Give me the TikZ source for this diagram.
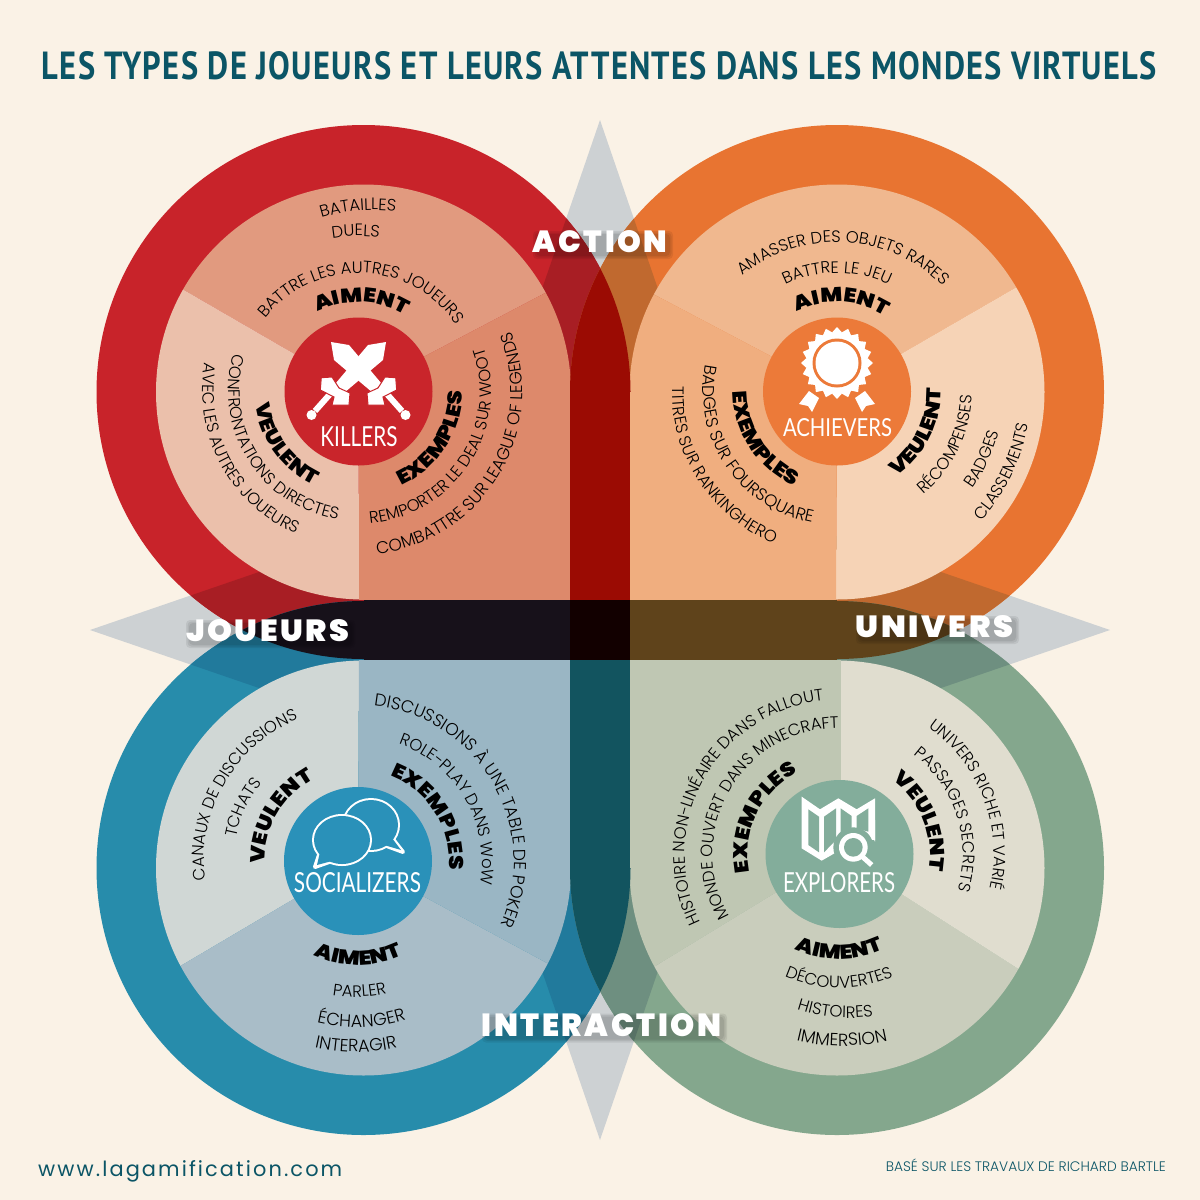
\documentclass[tikz,border=0pt]{standalone}
\usepackage{fontspec}
\usepackage{graphicx}
\usetikzlibrary{calc,decorations.text}
\newfontfamily\bodyfont{Poppins Light}
\newfontfamily\heavyfont[FakeStretch=1.15]{Poppins Black}
\newfontfamily\titlefont[LetterSpace=4]{PT Sans Bold}
\newfontfamily\iconfont{Lato}
\newfontfamily\bandfont[LetterSpace=8]{Poppins Black}
\newfontfamily\urlfont[LetterSpace=10]{Poppins}
\newfontfamily\notefont{Poppins Light}
\definecolor{bg}{HTML}{FAF2E6}
\definecolor{dia}{HTML}{CDD1D3}
\definecolor{tealt}{HTML}{0B5566}
\definecolor{redc}{HTML}{C8232A}
\definecolor{redd}{HTML}{A81E24}
\definecolor{orac}{HTML}{E87431}
\definecolor{orad}{HTML}{C0692F}
\definecolor{bluc}{HTML}{278CAB}
\definecolor{blud}{HTML}{217A9C}
\definecolor{grec}{HTML}{84A78D}
\definecolor{gred}{HTML}{6E8F80}
\definecolor{icr}{HTML}{C9252B}
\definecolor{ico}{HTML}{EC7A39}
\definecolor{icb}{HTML}{2A91B9}
\definecolor{icg}{HTML}{83AD9B}
\definecolor{rA}{HTML}{E19A7F}
\definecolor{rV}{HTML}{EBC0AB}
\definecolor{rX}{HTML}{DD896B}
\definecolor{oA}{HTML}{F0B88F}
\definecolor{oV}{HTML}{F6D3B6}
\definecolor{oX}{HTML}{F0AE7F}
\definecolor{bV}{HTML}{D0D7D5}
\definecolor{bA}{HTML}{A9BDC8}
\definecolor{bX}{HTML}{9AB6C4}
\definecolor{gX}{HTML}{BFC7B3}
\definecolor{gA}{HTML}{C9CDBC}
\definecolor{gV}{HTML}{E0DDCF}
\definecolor{bandT}{HTML}{9B0B03}
\definecolor{bandB}{HTML}{12545F}
\definecolor{bandL}{HTML}{17111A}
\definecolor{bandR}{HTML}{5F431B}
\definecolor{bandC}{HTML}{120000}
\tikzset{
  iconbg/.style={circle,inner sep=0pt,minimum size=148pt},
  iconlab/.style={inner sep=0pt,text=white},
  bandlab/.style={inner sep=0pt,text=white},
  softshade/.style={fill=black,opacity=0.07,rounded corners=4pt},
}
\newcommand\dbody{\fontsize{16.5}{16.5}\selectfont\bodyfont}
\newcommand\dbs[1]{\fontsize{#1}{#1}\selectfont\bodyfont}
\newcommand\dheavy{\fontsize{20}{20}\selectfont\heavyfont}
% cx cy R mid dir(1=clockwise,-1=counterclockwise) format text
\newcommand\ct[7]{%
  \pgfmathsetmacro\sa{#4+#5*85}%
  \pgfmathsetmacro\da{-#5*170}%
  \path[decorate,decoration={text along path,text align=center,text={|#6|#7}}]
    ($(#1,-#2)+(\sa:#3)$) arc[start angle=\sa,delta angle=\da,radius=#3];
}
\newcommand\wed[7]{% color cx cy x1 y1 x2 y2
  \fill[#1] (#2,-#3) -- ($(#2,-#3)!3!(#4,-#5)$) -- ($(#2,-#3)!3!(#6,-#7)$) -- cycle;
}
\newcommand\bandtext[6]{% name x y w h text
  \foreach \g in {0,1.5,3}{
    \fill[softshade] ({#2+3-#4/2-\g},{-#3-3-#5/2-\g}) rectangle ({#2+3+#4/2+\g},{-#3-3+#5/2+\g});
  }
  \node[bandlab] (#1) at (#2,-#3) {\resizebox{#4pt}{#5pt}{\bandfont #6}};
}
\begin{document}
\begin{tikzpicture}[x=1pt,y=1pt]
\useasboundingbox (0,-1200) rectangle (1200,0);
\fill[bg] (0,-1200) rectangle (1200,0);
% title
\node[inner sep=0pt,text=tealt] (title) at (599.5,-65.5) {\resizebox{1115pt}{28pt}{\titlefont LES TYPES DE JOUEURS ET LEURS ATTENTES DANS LES MONDES VIRTUELS}};
% grey diamonds
\fill[dia] (600,-120) -- (775,-630) -- (600,-1140) -- (425,-630) -- cycle;
\fill[dia] (90,-630) -- (600,-455) -- (1110,-630) -- (600,-805) -- cycle;
% outer shapes
\fill[redc] (363.5,-392) circle[radius=267];
\fill[redc] (363.5,-392) rectangle (630,-659);
\fill[orac] (837,-392) circle[radius=267];
\fill[orac] (570,-392) rectangle (837,-659);
\fill[bluc] (363.5,-868) circle[radius=267];
\fill[bluc] (363.5,-601) rectangle (630,-868);
\fill[grec] (837,-868) circle[radius=267];
\fill[grec] (570,-601) rectangle (837,-868);
% diamond seen through the rings
\foreach \cx/\cy/\cc in {363.5/392/redd,837/392/orad,363.5/868/blud,837/868/gred}{
  \begin{scope}
    \clip (\cx,-\cy) circle[radius=267];
    \fill[\cc] (600,-120) -- (775,-630) -- (600,-1140) -- (425,-630) -- cycle;
    \fill[\cc] (90,-630) -- (600,-455) -- (1110,-630) -- (600,-805) -- cycle;
  \end{scope}
}
% sectors red
\begin{scope}
  \clip (363.5,-392) circle[radius=207.5];
  \wed{rA}{358.5}{391}{184}{290}{547}{292}
  \wed{rX}{358.5}{391}{547}{292}{359}{600}
  \wed{rV}{358.5}{391}{359}{600}{184}{290}
\end{scope}
\fill[rX] (359,-392) rectangle (570,-600);
% sectors orange
\begin{scope}
  \clip (837,-392) circle[radius=207.5];
  \wed{oA}{837}{391}{655}{295}{1015}{288}
  \wed{oV}{837}{391}{1015}{288}{836}{600}
  \wed{oX}{837}{391}{836}{600}{655}{295}
\end{scope}
\fill[oX] (630,-392) rectangle (836,-600);
% sectors blue
\begin{scope}
  \clip (363.5,-868) circle[radius=207.5];
  \wed{bV}{358}{861}{359}{660}{182}{965}
  \wed{bA}{358}{861}{182}{965}{545}{962}
  \wed{bX}{358}{861}{545}{962}{359}{660}
\end{scope}
\fill[bX] (359,-660) rectangle (570,-868);
% sectors green
\begin{scope}
  \clip (837,-868) circle[radius=207.5];
  \wed{gX}{839}{854}{841}{660}{657}{965}
  \wed{gA}{839}{854}{657}{965}{1017}{968}
  \wed{gV}{839}{854}{1017}{968}{841}{660}
\end{scope}
\fill[gX] (630,-660) rectangle (841,-868);
% overlap bands
\begin{scope}
  \clip (363.5,-392) circle[radius=267];
  \clip (837,-392) circle[radius=267];
  \fill[bandT] (500,-100) rectangle (700,-392);
\end{scope}
\fill[bandT] (570,-392) rectangle (630,-600);
\begin{scope}
  \clip (363.5,-868) circle[radius=267];
  \clip (837,-868) circle[radius=267];
  \fill[bandB] (500,-868) rectangle (700,-1160);
\end{scope}
\fill[bandB] (570,-660) rectangle (630,-868);
\begin{scope}
  \clip (363.5,-392) circle[radius=267];
  \clip (363.5,-868) circle[radius=267];
  \fill[bandL] (100,-500) rectangle (363.5,-760);
\end{scope}
\fill[bandL] (363.5,-600) rectangle (570,-660);
\begin{scope}
  \clip (837,-392) circle[radius=267];
  \clip (837,-868) circle[radius=267];
  \fill[bandR] (837,-500) rectangle (1100,-760);
\end{scope}
\fill[bandR] (630,-600) rectangle (837,-660);
\fill[bandC] (570,-600) rectangle (630,-660);
% icon discs
\node[iconbg,fill=icr] (killers) at (358.5,-391.5) {};
\node[iconbg,fill=ico] (achievers) at (837,-391.5) {};
\node[iconbg,fill=icb] (socializers) at (358,-861) {};
\node[iconbg,fill=icg] (explorers) at (839.5,-854) {};
% swords
\foreach \s in {1,-1}{
 \begin{scope}[shift={(358.5,-392)},xscale=\s]
  \fill[white] (-27.5,50) -- (-9.5,47) -- (23,8.5) -- (14,-0.5) -- (-24.5,32) -- cycle;
 \end{scope}
}
\foreach \s in {1,-1}{
 \begin{scope}[shift={(358.5,-392)},xscale=\s]
  \draw[white,line width=6pt] (27.5,-1) -- (43.5,-19);
  \filldraw[fill=white,draw=icr,line width=1pt] (26.5,15) -- (37.2,14.3) -- (38.2,2) -- (24.5,-5) -- (26.5,-13) -- (9.5,-13) -- (8.5,-1) -- (19.5,4) -- cycle;
  \fill[white] (47,-23) circle[radius=5];
 \end{scope}
}
\node[iconlab] (killerslab) at (359,-437) {\resizebox{77pt}{20pt}{\iconfont KILLERS}};
% medal
\fill[white,shift={(837,-363)}] plot[samples at={0,9,...,351},variable=\a] (\a:{mod(\a,18)==0 ? 36 : 31}) -- cycle;
\fill[ico] (837,-363) circle[radius=24.5];
\fill[white] (837,-363) circle[radius=21.5];
\foreach \s in {1,-1}{
 \begin{scope}[shift={(837,-363)},xscale=\s]
  \fill[white] (-28,-28) -- (-18,-35) -- (-25,-49) -- (-29,-43) -- (-38,-41) -- cycle;
 \end{scope}
}
\node[iconlab] (achieverslab) at (837.5,-428) {\resizebox{109pt}{18pt}{\iconfont ACHIEVERS}};
% bubbles
\draw[white,line width=4pt] (371,-825) ellipse[x radius=27,y radius=25];
\draw[white,line width=4pt,line join=round] (392,-838) -- (403,-852) -- (384,-845);
\fill[icb] (371,-825) ellipse[x radius=27,y radius=25];
\fill[icb] (392,-838) -- (401,-850) -- (384,-845) -- cycle;
\draw[white,line width=4pt] (342,-840) ellipse[x radius=28,y radius=24];
\draw[white,line width=4pt,line join=round] (320,-852) -- (315,-867) -- (332,-861);
\fill[icb] (342,-840) ellipse[x radius=28,y radius=24];
\fill[icb] (320,-852) -- (317,-865) -- (332,-861) -- cycle;
\node[iconlab] (socializerslab) at (357.5,-883) {\resizebox{127pt}{20pt}{\iconfont SOCIALIZERS}};
% map
\begin{scope}[shift={(750,-770)},scale=1/3]
  \fill[white] (155,-80) -- (210,-118) -- (265,-85) -- (320,-118) -- (375,-85) -- (375,-215) -- (340,-270) -- (262,-245) -- (215,-272) -- (155,-235) -- cycle;
  \fill[icg] (175,-118) -- (207,-140) -- (207,-247) -- (175,-225) -- cycle;
  \fill[icg] (222,-140) -- (258,-115) -- (258,-210) -- (222,-247) -- cycle;
  \fill[icg] (272,-115) -- (305,-138) -- (305,-175) -- (272,-195) -- cycle;
  \fill[icg] (320,-138) -- (355,-115) -- (355,-185) -- (320,-175) -- cycle;
  \fill[icg] (310,-232) circle[radius=60];
  \fill[icg] (345,-210) rectangle (380,-290);
  \fill[white] (375,-150) -- (375,-215) -- (362,-190) -- cycle;
  \fill[white] (310,-232) circle[radius=43];
  \fill[icg] (310,-232) circle[radius=28];
  \draw[white,line width=5pt] (335,-258) -- (365,-285);
\end{scope}
\node[iconlab] (explorerslab) at (839,-883) {\resizebox{112pt}{20pt}{\iconfont EXPLORERS}};
% curved texts: killers
\ct{358.5}{391}{89}{88}{1}{\dheavy}{AIMENT}
\ct{358.5}{391}{118}{88}{1}{\dbody}{BATTRE LES AUTRES JOUEURS}
\ct{358.5}{391}{155}{91}{1}{\dbody}{DUELS}
\ct{374}{391}{181}{95}{1}{\dbody}{BATAILLES}
\ct{358.5}{391}{104}{216}{-1}{\dheavy}{VEULENT}
\ct{358.5}{391}{130}{212}{-1}{\dbody}{CONFRONTATIONS DIRECTES}
\ct{358.5}{391}{156}{208}{-1}{\dbody}{AVEC LES AUTRES JOUEURS}
\ct{358.5}{391}{104}{-33}{-1}{\dheavy}{EXEMPLES}
\ct{358.5}{391}{133}{-33}{-1}{\dbody}{REMPORTER LE DEAL SUR WOOT}
\ct{358.5}{391}{164}{-31}{-1}{\dbs{17}}{COMBATTRE SUR LEAGUE OF LEGENDS}
% achievers
\ct{837}{391}{89}{87}{1}{\dheavy}{AIMENT}
\ct{837}{391}{118}{90}{1}{\dbody}{BATTRE LE JEU}
\ct{837}{391}{149}{87}{1}{\dbody}{AMASSER DES OBJETS RARES}
\ct{837}{391}{104}{-27}{-1}{\dheavy}{VEULENT}
\ct{837}{391}{135}{-26}{-1}{\dbody}{RÉCOMPENSES}
\ct{837}{391}{167}{-25}{-1}{\dbody}{BADGES}
\ct{837}{391}{194}{-26}{-1}{\dbody}{CLASSEMENTS}
\ct{837}{391}{104}{213}{-1}{\dheavy}{EXEMPLES}
\ct{837}{391}{134}{214}{-1}{\dbs{17}}{BADGES SUR FOURSQUARE}
\ct{837}{391}{165}{213}{-1}{\dbody}{TITRES SUR RANKINGHERO}
% socializers
\ct{358}{861}{104}{-90}{-1}{\dheavy}{AIMENT}
\ct{355}{861}{136}{-88}{-1}{\dbody}{PARLER}
\ct{356}{861}{166}{-88}{-1}{\dbs{17.5}}{ÉCHANGER}
\ct{356}{861}{191}{-90}{-1}{\dbs{17.5}}{INTERAGIR}
\ct{358}{861}{93}{150}{1}{\dheavy}{VEULENT}
\ct{358}{861}{124}{155}{1}{\dbody}{TCHATS}
\ct{358}{861}{154}{150}{1}{\dbody}{CANAUX DE DISCUSSIONS}
\ct{358}{861}{91}{32}{1}{\dheavy}{EXEMPLES}
\ct{358}{861}{124}{30}{1}{\dbody}{ROLE-PLAY DANS WoW}
\ct{358}{861}{156}{30}{1}{\dbs{17.2}}{DISCUSSIONS À UNE TABLE DE POKER}
% explorers
\ct{839}{854}{105}{-90}{-1}{\dheavy}{AIMENT}
\ct{839}{854}{134}{-90}{-1}{\dbody}{DÉCOUVERTES}
\ct{849}{854}{164}{-95}{-1}{\dbody}{HISTOIRES}
\ct{842}{854}{192}{-90}{-1}{\dbs{17.5}}{IMMERSION}
\ct{839}{854}{91}{22}{1}{\dheavy}{VEULENT}
\ct{839}{854}{124}{18}{1}{\dbody}{PASSAGES SECRETS}
\ct{839}{854}{155}{21}{1}{\dbody}{UNIVERS RICHE ET VARIÉ}
\ct{839}{854}{91}{154}{1}{\dheavy}{EXEMPLES}
\ct{839}{854}{126}{150}{1}{\dbody}{MONDE OUVERT DANS MINECRAFT}
\ct{839}{854}{154}{151}{1}{\dbody}{HISTOIRE NON-LINÉAIRE DANS FALLOUT}
% band labels
\bandtext{lblaction}{600}{242}{134}{22}{ACTION}
\bandtext{lbljoueurs}{267.5}{631}{163}{22}{JOUEURS}
\bandtext{lblunivers}{934.5}{627}{157}{22}{UNIVERS}
\bandtext{lblinter}{601.5}{1025}{239}{23}{INTERACTION}
% footer
\node[inner sep=0pt,text=tealt,anchor=base west] (url) at (38,-1176) {\resizebox{304pt}{!}{\urlfont www.lagamification.com}};
\node[inner sep=0pt,text=tealt,anchor=base east] (credit) at (1166,-1171) {\resizebox{280pt}{!}{\notefont BASÉ SUR LES TRAVAUX DE RICHARD BARTLE}};
\end{tikzpicture}
\end{document}
